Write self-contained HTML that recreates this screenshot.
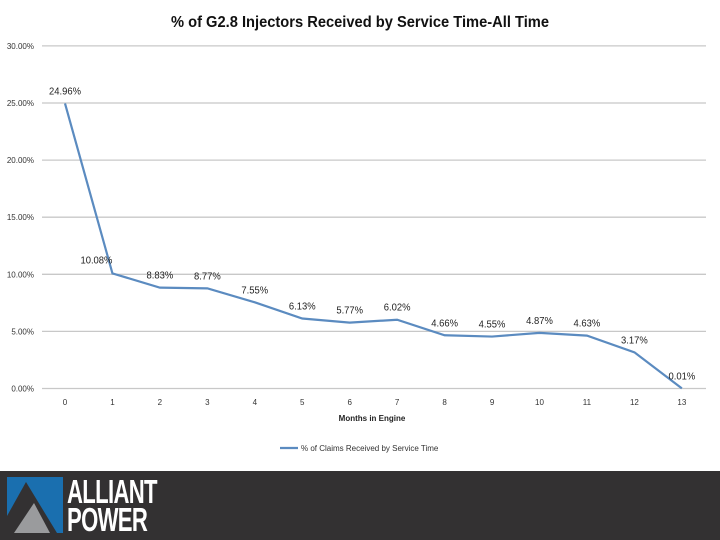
<!DOCTYPE html>
<html><head><meta charset="utf-8"><style>
body{margin:0;width:720px;height:540px;background:#fff;overflow:hidden;position:relative;font-family:"Liberation Sans",sans-serif}
#footer{position:absolute;left:0;top:471px;width:720px;height:69px;background:#333132}
.logo-text{position:absolute;left:67px;color:#fff;font-family:"Liberation Sans",sans-serif;font-weight:bold;font-size:33px;letter-spacing:-1px;transform:scaleX(0.67);transform-origin:left top;line-height:28px}
</style></head><body>
<svg id="chart" width="720" height="470" style="position:absolute;left:0;top:0" font-family="Liberation Sans, sans-serif"></svg>
<div id="footer">
<svg width="60" height="60" style="position:absolute;left:6px;top:5px">
<rect x="1" y="1" width="56" height="56" fill="#1a6faf"/>
<polygon points="1,57 1,40 20,6 51,57" fill="#333132"/>
<polygon points="8,57 28,27 44,57" fill="#9a9b9d"/>
</svg>
<div class="logo-text" style="top:7px">ALLIANT</div>
<div class="logo-text" style="top:35px">POWER</div>
</div>
<script>
const months=[0,1,2,3,4,5,6,7,8,9,10,11,12,13];
const values=[24.96,10.08,8.83,8.77,7.55,6.13,5.77,6.02,4.66,4.55,4.87,4.63,3.17,0.01];
const labels=["24.96%","10.08%","8.83%","8.77%","7.55%","6.13%","5.77%","6.02%","4.66%","4.55%","4.87%","4.63%","3.17%","0.01%"];
const yTicks=[0,5,10,15,20,25,30];
const svg=document.getElementById('chart');
const NS='http://www.w3.org/2000/svg';
const X=m=>65+m*47.45, Y=v=>388.5-v*11.42;
function mk(t,a,txt){const e=document.createElementNS(NS,t);for(const k in a)e.setAttribute(k,a[k]);if(txt!==undefined)e.textContent=txt;svg.appendChild(e);return e;}
let t=mk('text',{x:360,y:27,'text-anchor':'middle','font-size':16,'font-weight':'bold',fill:'#111',textLength:378,lengthAdjust:'spacingAndGlyphs'},'% of G2.8 Injectors Received by Service Time-All Time');


yTicks.forEach(v=>{
 let l=mk('line',{x1:42,x2:706,y1:Y(v),y2:Y(v),stroke:'#c8c8c8','stroke-width':1.3});
 
 
 let tx=mk('text',{x:34,y:Y(v)+3,'text-anchor':'end','font-size':8,fill:'#333'},v.toFixed(2)+'%');
 
 
});
months.forEach(m=>{
 let tx=mk('text',{x:X(m),y:405,'text-anchor':'middle','font-size':8,fill:'#333'},String(m));
 
 
});
let xt=mk('text',{x:372,y:421,'text-anchor':'middle','font-size':8,'font-weight':'bold',fill:'#222'},'Months in Engine');


let p=mk('polyline',{points:months.map((m,i)=>X(m)+','+Y(values[i])).join(' '),fill:'none',stroke:'#5b8bc0','stroke-width':2.2});


months.forEach((m,i)=>{
 let tx=mk('text',{x:X(m)+(i==0?0:i==1?-16:0),y:Y(values[i])-(i==1?10:9),'text-anchor':'middle','font-size':10.5,fill:'#222',transform:'translate('+(X(m)+(i==1?-16:0))+',0) scale(0.9,1) translate('+(-(X(m)+(i==1?-16:0)))+',0)'},labels[i]);
 
 
});
let ll=mk('line',{x1:280,x2:298,y1:448,y2:448,stroke:'#5b8bc0','stroke-width':2.2});


let lt=mk('text',{x:301,y:451,'font-size':8,fill:'#333'},'% of Claims Received by Service Time');


</script>
</body></html>
